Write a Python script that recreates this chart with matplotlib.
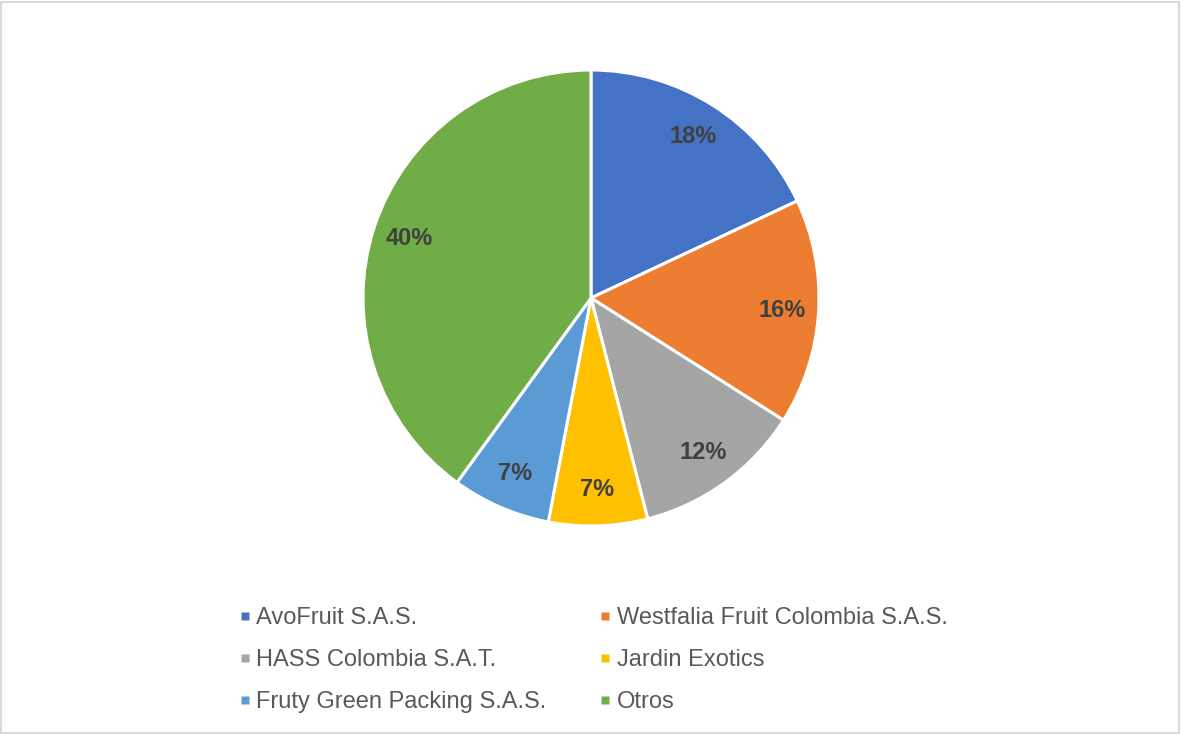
import matplotlib.pyplot as plt
from matplotlib.patches import Rectangle
from matplotlib.lines import Line2D

plt.rcParams['font.family'] = ['Liberation Sans', 'DejaVu Sans']

labels = ['AvoFruit S.A.S.', 'Westfalia Fruit Colombia S.A.S.', 'HASS Colombia S.A.T.',
          'Jardin Exotics', 'Fruty Green Packing S.A.S.', 'Otros']
shares = [18, 16, 12, 7, 7, 40]
colors = ['#4472C4', '#ED7D31', '#A5A5A5', '#FFC000', '#5B9BD5', '#70AD47']

W, H = 1181, 734
fig = plt.figure(figsize=(W / 100, H / 100), dpi=100)

# pie axes: centre (591, 298), radius 228 px
cx, cy, r = 591, 298, 228
ax = fig.add_axes([(cx - r) / W, (H - cy - r) / H, 2 * r / W, 2 * r / H])
wedges, texts, autotexts = ax.pie(
    shares, colors=colors, startangle=90, counterclock=False,
    autopct='%1.0f%%', pctdistance=0.84,
    wedgeprops=dict(edgecolor='white', linewidth=2.2),
    textprops=dict(color='#404040', fontsize=17, fontweight='bold'))
ax.set_xlim(-1, 1)
ax.set_ylim(-1, 1)
ax.set_aspect('auto')

# legend in 2 columns, filled row by row like Excel
order = [0, 2, 4, 1, 3, 5]
handles = [Line2D([], [], marker='s', linestyle='none', markersize=5.4,
                  markerfacecolor=colors[i], markeredgecolor='none') for i in order]
leg = fig.legend(handles, [labels[i] for i in order], ncol=2, loc='upper left',
                 bbox_to_anchor=(229 / W, 1 - 595 / H), frameon=False,
                 fontsize=17, labelcolor='#595959', borderpad=0,
                 handlelength=0.32, handletextpad=0.34,
                 columnspacing=2.32, labelspacing=0.85)

# chart border
fig.add_artist(Rectangle((1.5 / W, 1.5 / H), 1 - 3.5 / W, 1 - 3.5 / H,
                         transform=fig.transFigure, fill=False,
                         edgecolor='#D9D9D9', linewidth=1.5))

fig.savefig('out.png', dpi=100)
